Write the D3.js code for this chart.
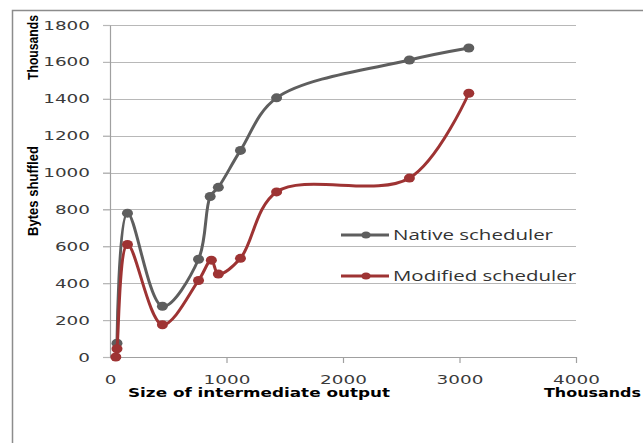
<!DOCTYPE html>
<html>
<head>
<meta charset="utf-8">
<style>
  body { margin: 0; background: #fff; }
  svg { display: block; }
</style>
<title>Bytes shuffled vs intermediate output</title>
</head>
<body>
<script src="https://cdn.jsdelivr.net/npm/d3@7"></script>
<script>
// data (both axes in thousands)
var nativeX = [60, 150, 450, 760, 860, 930, 1120, 1430, 2570, 3080];
var nativeY = [75, 780, 275, 530, 870, 920, 1120, 1405, 1610, 1675];
var modX = [50, 60, 150, 450, 760, 870, 930, 1120, 1430, 2570, 3080];
var modY = [0, 45, 610, 175, 415, 525, 450, 535, 895, 970, 1430];
var xTicks = [0, 1000, 2000, 3000, 4000];
var yTicks = [0, 200, 400, 600, 800, 1000, 1200, 1400, 1600, 1800];
var seriesNames = ["Native scheduler", "Modified scheduler"];
var seriesColors = ["#5e5e5e", "#9e3333"];

var width = 643, height = 443;
var margin = { top: 25, left: 110, bottom: 86, right: 67 };

var x = d3.scaleLinear().domain([0, 4000]).range([margin.left, width - margin.right]);
var y = d3.scaleLinear().domain([0, 1800]).range([height - margin.bottom, margin.top]);

var svg = d3.select("body").append("svg")
  .attr("width", width)
  .attr("height", height);

// outer chart border (only top and left are visible in the frame)
svg.append("rect")
  .attr("x", 12.5).attr("y", 10.5)
  .attr("width", 700).attr("height", 500)
  .attr("fill", "none")
  .attr("stroke", "#8c8c8c")
  .attr("stroke-width", 1.5);

// gridlines (also serve as the y ticks)
svg.append("g")
  .selectAll("line").data(yTicks.slice(1))
  .enter().append("line")
  .attr("x1", margin.left - 7).attr("x2", x(4000))
  .attr("y1", function(d) { return Math.round(y(d)) + 0.5; })
  .attr("y2", function(d) { return Math.round(y(d)) + 0.5; })
  .attr("stroke", "#b8b8b8")
  .attr("stroke-width", 1.2);

// the tick digits in the picture are wide, so stretch them a bit
var tickFont = function(sel, size) {
  sel.attr("font-family", "DejaVu Sans, Verdana, sans-serif")
    .attr("font-size", size)
    .attr("fill", "#3a3a3a")
    .attr("textLength", function(d) { return String(d).length * 11.7; })
    .attr("lengthAdjust", "spacingAndGlyphs");
};

// y axis
var yAxis = svg.append("g")
  .attr("transform", "translate(" + margin.left + ",0)")
  .call(d3.axisLeft(y).tickValues(yTicks).tickFormat(d3.format("d"))
    .tickSize(7).tickSizeOuter(0).tickPadding(13));
yAxis.select(".domain").attr("stroke", "#a0a0a0").attr("stroke-width", 1.2);
yAxis.selectAll(".tick line").attr("stroke", "#b8b8b8").attr("stroke-width", 1.2);
yAxis.selectAll("text").call(tickFont, 12.5);

// x axis
var xAxis = svg.append("g")
  .attr("transform", "translate(0," + y(0) + ")")
  .call(d3.axisBottom(x).tickValues(xTicks).tickFormat(d3.format("d"))
    .tickSize(6).tickSizeOuter(0).tickPadding(13));
xAxis.select(".domain").attr("stroke", "#a0a0a0").attr("stroke-width", 1.2);
xAxis.selectAll(".tick line").attr("stroke", "#a0a0a0").attr("stroke-width", 1.2);
xAxis.selectAll(".tick line").filter(function(d) { return d === 0; }).remove();
xAxis.selectAll("text").call(tickFont, 11.5);

// series
var series = [
  { xs: nativeX, ys: nativeY, color: seriesColors[0] },
  { xs: modX, ys: modY, color: seriesColors[1] }
];

var line = d3.line()
  .x(function(d) { return x(d[0]); })
  .y(function(d) { return y(d[1]); })
  .curve(d3.curveCatmullRom.alpha(0.5));

series.forEach(function(s) {
  var pts = s.xs.map(function(v, i) { return [v, s.ys[i]]; });
  svg.append("path")
    .datum(pts)
    .attr("d", line)
    .attr("fill", "none")
    .attr("stroke", s.color)
    .attr("stroke-width", 3);
  svg.append("g")
    .selectAll("ellipse").data(pts)
    .enter().append("ellipse")
    .attr("cx", function(d) { return x(d[0]); })
    .attr("cy", function(d) { return y(d[1]); })
    .attr("rx", 5.5).attr("ry", 4.5)
    .attr("fill", s.color);
});

// legend
var legend = svg.append("g");
seriesNames.forEach(function(name, i) {
  var ly = 235 + i * 41;
  legend.append("line")
    .attr("x1", 341).attr("x2", 389)
    .attr("y1", ly).attr("y2", ly)
    .attr("stroke", seriesColors[i]).attr("stroke-width", 3);
  legend.append("ellipse")
    .attr("cx", 366).attr("cy", ly)
    .attr("rx", 4.5).attr("ry", 3.5)
    .attr("fill", seriesColors[i]);
  legend.append("text")
    .attr("x", 393).attr("y", ly + 5)
    .attr("font-family", "Open Sans, DejaVu Sans, sans-serif")
    .attr("font-size", 14)
    .attr("fill", "#333")
    .attr("textLength", i === 0 ? 160 : 183)
    .attr("lengthAdjust", "spacingAndGlyphs")
    .text(name);
});

// axis titles
svg.append("text")
  .attr("x", 128).attr("y", 397)
  .attr("font-family", "DejaVu Sans, Verdana, sans-serif")
  .attr("font-weight", "bold")
  .attr("font-size", 12.5)
  .attr("textLength", 262)
  .attr("lengthAdjust", "spacingAndGlyphs")
  .text("Size of intermediate output");

svg.append("text")
  .attr("x", 544).attr("y", 397)
  .attr("font-family", "DejaVu Sans, Verdana, sans-serif")
  .attr("font-weight", "bold")
  .attr("font-size", 12.5)
  .attr("textLength", 97)
  .attr("lengthAdjust", "spacingAndGlyphs")
  .text("Thousands");

svg.append("text")
  .attr("transform", "translate(38,236) rotate(-90)")
  .attr("font-family", "Liberation Sans Narrow, Liberation Sans, sans-serif")
  .attr("font-weight", "bold")
  .attr("font-size", 14)
  .attr("textLength", 90)
  .attr("lengthAdjust", "spacingAndGlyphs")
  .text("Bytes shuffled");

svg.append("text")
  .attr("transform", "translate(38,80) rotate(-90)")
  .attr("font-family", "Liberation Sans Narrow, Liberation Sans, sans-serif")
  .attr("font-weight", "bold")
  .attr("font-size", 14)
  .attr("textLength", 65)
  .attr("lengthAdjust", "spacingAndGlyphs")
  .text("Thousands");
</script>
</body>
</html>
